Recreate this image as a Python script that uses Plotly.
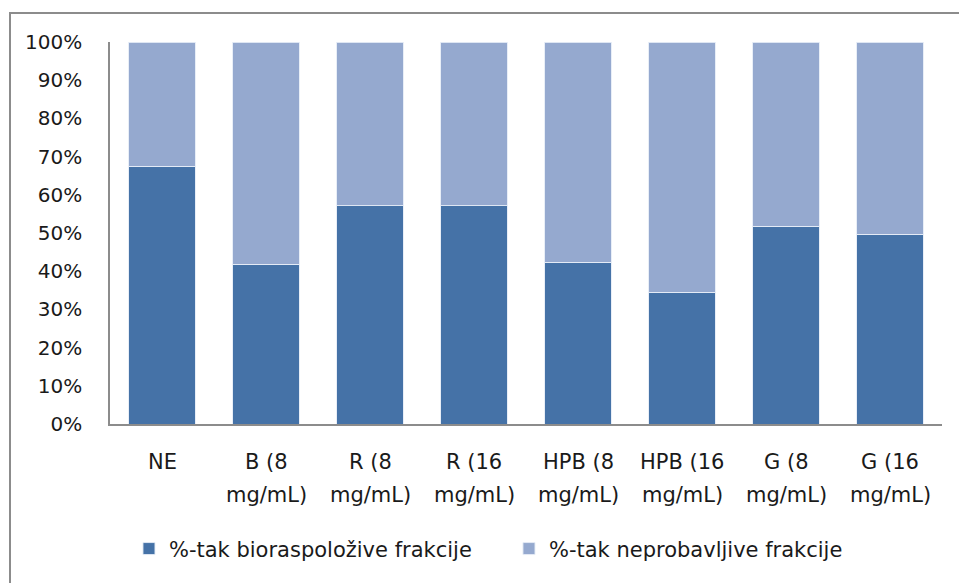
import plotly.graph_objects as go

cat_line1 = ["NE", "B (8", "R (8", "R (16", "HPB (8", "HPB (16", "G (8", "G (16"]
cat_line2 = ["", "mg/mL)", "mg/mL)", "mg/mL)", "mg/mL)", "mg/mL)", "mg/mL)", "mg/mL)"]
categories = [(a + " " + b).strip() for a, b in zip(cat_line1, cat_line2)]

bio = [67.5, 41.8, 57.1, 57.1, 42.3, 34.5, 51.8, 49.7]
neprob = [32.5, 58.2, 42.9, 42.9, 57.7, 65.5, 48.2, 50.3]

series_names = ["%-tak bioraspoložive frakcije", "%-tak neprobavljive frakcije"]
colors = ["#4572A7", "#95A9CF"]
y_ticks = [0, 10, 20, 30, 40, 50, 60, 70, 80, 90, 100]

FONT = "DejaVu Sans"
TXT = "#1a1a1a"

fig = go.Figure()
for name, vals, col in zip(series_names, [bio, neprob], colors):
    fig.add_trace(go.Bar(
        x=categories, y=vals, name=name, width=0.635,
        marker=dict(color=col, line=dict(color="rgba(230,236,246,0.9)", width=1)),
    ))

annotations = []
for c, l1, l2 in zip(categories, cat_line1, cat_line2):
    annotations.append(dict(x=c, xref="x", y=-0.10, yref="paper", text=l1,
                            showarrow=False, yanchor="middle",
                            font=dict(family=FONT, size=21, color=TXT)))
    if l2:
        annotations.append(dict(x=c, xref="x", y=-0.186, yref="paper", text=l2,
                                showarrow=False, yanchor="middle",
                                font=dict(family=FONT, size=21, color=TXT)))

fig.update_layout(
    barmode="stack",
    width=959, height=583,
    margin=dict(l=110, r=17, t=42, b=159),
    paper_bgcolor="white", plot_bgcolor="white",
    font=dict(family=FONT, size=20, color=TXT),
    bargap=0.365,
    xaxis=dict(showticklabels=False, showline=True, linecolor="#8c8c8c", linewidth=1.5,
               showgrid=False, ticks="", range=[-0.5, 7.5]),
    yaxis=dict(range=[0, 100], tickvals=y_ticks, ticktext=[f"{v}%" for v in y_ticks],
               showline=True, linecolor="#8c8c8c", linewidth=1.5, showgrid=False,
               ticks="", ticklabelstandoff=22, zeroline=False,
               tickfont=dict(family=FONT, size=20, color=TXT)),
    legend=dict(orientation="h", x=0.0228, xanchor="left", y=-0.327, yanchor="middle",
                font=dict(family=FONT, size=21, color=TXT),
                entrywidth=335, traceorder="normal", itemwidth=30),
    annotations=annotations,
    shapes=[dict(type="rect", xref="paper", yref="paper",
                 x0=(10 - 110) / 832, x1=(975 - 110) / 832,
                 y0=(424 - 600) / 382, y1=1 + (42 - 13) / 382,
                 line=dict(color="#8c8c8c", width=2), layer="below")],
    showlegend=True,
)

fig.write_html("out.html", config={"displayModeBar": False},
               post_script="document.body.style.margin='0';")
